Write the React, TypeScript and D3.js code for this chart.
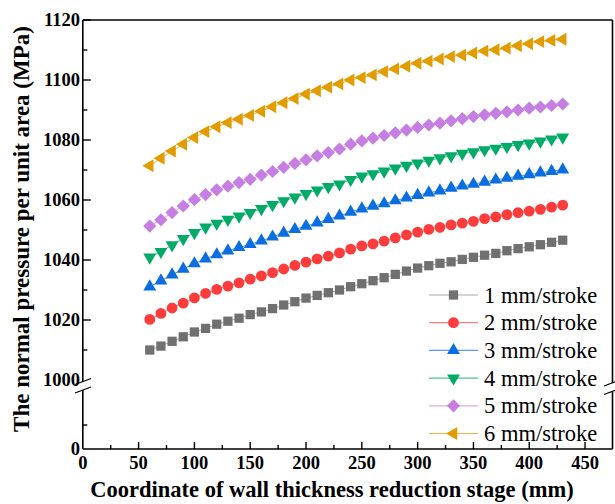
import React from "react";
import * as d3 from "d3";

const xValues = [60, 70, 80, 90, 100, 110, 120, 130, 140, 150, 160, 170, 180, 190, 200, 210, 220, 230, 240, 250, 260, 270, 280, 290, 300, 310, 320, 330, 340, 350, 360, 370, 380, 390, 400, 410, 420, 430];

const s1 = [1010.0, 1011.3, 1012.9, 1014.4, 1016.0, 1017.2, 1018.6, 1019.6, 1020.6, 1021.8, 1022.7, 1023.8, 1025.0, 1026.1, 1027.3, 1028.2, 1029.1, 1030.0, 1031.1, 1032.1, 1033.1, 1034.1, 1035.2, 1036.3, 1037.3, 1038.1, 1038.9, 1039.4, 1040.2, 1040.9, 1041.6, 1042.2, 1043.1, 1043.8, 1044.4, 1045.1, 1045.9, 1046.6];
const s2 = [1020.2, 1022.2, 1024.0, 1025.6, 1027.4, 1028.9, 1030.2, 1031.3, 1032.4, 1033.6, 1034.7, 1035.8, 1037.0, 1038.2, 1039.3, 1040.4, 1041.3, 1042.4, 1043.6, 1044.7, 1045.4, 1046.3, 1047.4, 1048.4, 1049.3, 1050.2, 1050.9, 1051.7, 1052.3, 1052.9, 1053.8, 1054.4, 1055.1, 1055.8, 1056.3, 1056.9, 1057.6, 1058.3];
const s3 = [1031.1, 1033.1, 1035.1, 1037.0, 1038.8, 1040.4, 1041.8, 1043.1, 1044.2, 1045.2, 1046.4, 1047.7, 1049.0, 1050.2, 1051.3, 1052.4, 1053.6, 1054.7, 1056.0, 1057.1, 1058.0, 1058.8, 1059.8, 1060.7, 1061.6, 1062.4, 1063.1, 1064.0, 1064.7, 1065.3, 1066.0, 1066.7, 1067.3, 1068.0, 1068.5, 1069.1, 1069.6, 1070.1];
const s4 = [1040.9, 1042.8, 1045.0, 1047.1, 1049.1, 1050.9, 1052.2, 1053.5, 1054.6, 1055.8, 1057.1, 1058.4, 1059.7, 1060.9, 1062.1, 1063.3, 1064.4, 1065.3, 1066.8, 1067.9, 1068.7, 1069.6, 1070.6, 1071.5, 1072.3, 1073.2, 1074.0, 1074.7, 1075.5, 1076.0, 1076.7, 1077.2, 1077.8, 1078.4, 1078.9, 1079.6, 1080.3, 1080.9];
const s5 = [1051.3, 1053.4, 1055.8, 1058.0, 1060.1, 1061.8, 1063.4, 1064.6, 1065.8, 1066.9, 1068.3, 1069.5, 1070.9, 1072.2, 1073.4, 1074.7, 1075.8, 1077.0, 1078.6, 1079.7, 1080.6, 1081.5, 1082.4, 1083.3, 1084.2, 1085.0, 1085.6, 1086.4, 1087.1, 1087.8, 1088.4, 1088.9, 1089.4, 1090.0, 1090.6, 1091.0, 1091.5, 1092.0];
const s6 = [1071.4, 1073.9, 1076.3, 1078.6, 1080.8, 1082.8, 1084.4, 1085.8, 1086.9, 1088.2, 1089.6, 1091.1, 1092.4, 1093.8, 1095.3, 1096.4, 1097.6, 1098.7, 1100.0, 1100.8, 1101.7, 1102.8, 1103.7, 1104.6, 1105.6, 1106.3, 1107.0, 1107.8, 1108.3, 1109.0, 1109.7, 1110.1, 1110.6, 1111.4, 1112.1, 1112.8, 1113.2, 1113.6];

const seriesNames = ["1 mm/stroke", "2 mm/stroke", "3 mm/stroke", "4 mm/stroke", "5 mm/stroke", "6 mm/stroke"];
const seriesValues = [s1, s2, s3, s4, s5, s6];
const seriesColors = ["#707070", "#ff3c3c", "#0a6de0", "#00ab68", "#c67ee3", "#e39c00"];
const lineColors = ["#a8a8a8", "#ff7b7b", "#5a9ae8", "#4cc08e", "#d9a8ee", "#e9b54a"];
const markerKinds = ["square", "circle", "triUp", "triDown", "diamond", "triLeft"];

const xTickLabels = [0, 50, 100, 150, 200, 250, 300, 350, 400, 450];
const xMinorTicks = [25, 75, 125, 175, 225, 275, 325, 375, 425];
const yUpperLabels = [1000, 1020, 1040, 1060, 1080, 1100, 1120];
const yUpperMinor = [1010, 1030, 1050, 1070, 1090, 1110];
const yLowerLabels = [0];
const yLowerMinor = [10];

const W = 615, H = 504;
const left = 82.8, right = 612.5, top = 20, bottom = 449;
const FONT = "'Liberation Serif', 'Times New Roman', serif";

function markerPath(kind: string): string {
  switch (kind) {
    case "square": return d3.symbol(d3.symbolSquare, 86)()!;
    case "circle": return d3.symbol(d3.symbolCircle, 92)()!;
    case "triUp": return d3.symbol(d3.symbolTriangle, 72)()!;
    case "triDown": return d3.symbol(d3.symbolTriangle, 72)()!;
    case "triLeft": return d3.symbol(d3.symbolTriangle, 72)()!;
    case "diamond": return "M0,-6.6L6.6,0L0,6.6L-6.6,0Z";
  }
  return "";
}
function markerRot(kind: string): number {
  if (kind === "triDown") return 180;
  if (kind === "triLeft") return -90;
  return 0;
}

export default function App() {
  const x = d3.scaleLinear().domain([0, 474.6]).range([left, right]);
  const yU = d3.scaleLinear().domain([1000, 1120]).range([380, top]);
  const yL = d3.scaleLinear().domain([0, 25]).range([bottom, 389]);

  const line = d3.line<[number, number]>().x((d) => x(d[0])).y((d) => yU(d[1]));

  const axisColor = "#000";
  const legendY0 = 295;
  const legendDy = 27.7;

  return (
    <svg width={W} height={H} style={{ position: "absolute", left: 0, top: 0, background: "#fff" }} fontFamily={FONT}>
      <rect x={0} y={0} width={W} height={H} fill="#fff" />
      {seriesValues.map((vals, i) => {
        const pts = xValues.map((xv, j) => [xv, vals[j]] as [number, number]);
        return (
          <g key={i}>
            <path d={line(pts)!} fill="none" stroke={lineColors[i]} strokeWidth={1} />
            {pts.map((p, j) => (
              <path key={j} d={markerPath(markerKinds[i])}
                transform={`translate(${x(p[0])},${yU(p[1])}) rotate(${markerRot(markerKinds[i])})`}
                fill={seriesColors[i]} />
            ))}
          </g>
        );
      })}

      <g stroke={axisColor} strokeWidth={1.6} fill="none">
        <line x1={left} y1={top} x2={right} y2={top} />
        <line x1={left} y1={bottom} x2={right} y2={bottom} />
        <line x1={left} y1={top} x2={left} y2={381.5} />
        <line x1={left} y1={390} x2={left} y2={bottom} />
        <line x1={right} y1={top} x2={right} y2={383} />
        <line x1={right} y1={391.5} x2={right} y2={bottom} />
        <line x1={75} y1={384.5} x2={91} y2={378.5} strokeWidth={1.3} />
        <line x1={75} y1={393} x2={91} y2={387} strokeWidth={1.3} />
        <line x1={604} y1={386} x2={620} y2={380} strokeWidth={1.3} />
        <line x1={604} y1={394.5} x2={620} y2={388.5} strokeWidth={1.3} />
      </g>

      <g stroke={axisColor} strokeWidth={1.4}>
        {yUpperLabels.filter((v) => v !== 1000).map((v) => (
          <line key={"yu" + v} x1={left} x2={left + 8} y1={yU(v)} y2={yU(v)} />
        ))}
        {yUpperMinor.map((v) => (
          <line key={"yum" + v} x1={left} x2={left + 4.5} y1={yU(v)} y2={yU(v)} />
        ))}
        {yLowerMinor.map((v) => (
          <line key={"ylm" + v} x1={left} x2={left + 4.5} y1={yL(v)} y2={yL(v)} />
        ))}
        {xTickLabels.filter((v) => v !== 0).map((v) => (
          <line key={"xt" + v} x1={x(v)} x2={x(v)} y1={bottom} y2={bottom - 7} />
        ))}
        {xMinorTicks.map((v) => (
          <line key={"xm" + v} x1={x(v)} x2={x(v)} y1={bottom} y2={bottom - 4} />
        ))}
      </g>

      <g fontSize={18.5} fontWeight="bold" fill="#000">
        {yUpperLabels.map((v) => (
          <text key={"yl" + v} x={80} y={yU(v) + 6.4} textAnchor="end">{v}</text>
        ))}
        {yLowerLabels.map((v) => (
          <text key={"yll" + v} x={80} y={yL(v) + 6.4} textAnchor="end">{v}</text>
        ))}
        {xTickLabels.map((v) => (
          <text key={"xl" + v} x={x(v)} y={468.5} textAnchor="middle">{v}</text>
        ))}
      </g>

      <text x={332} y={497} textAnchor="middle" fontSize={22.5} fontWeight="bold">
        Coordinate of wall thickness reduction stage (mm)
      </text>
      <text transform={`translate(29,229) rotate(-90)`} textAnchor="middle" fontSize={23} fontWeight="bold">
        The normal pressure per unit area (MPa)
      </text>

      {seriesNames.map((name, i) => {
        const ly = legendY0 + i * legendDy;
        return (
          <g key={"lg" + i}>
            <line x1={429} x2={478} y1={ly} y2={ly} stroke={lineColors[i]} strokeWidth={1.2} />
            <path d={markerPath(markerKinds[i])} transform={`translate(453.5,${ly}) rotate(${markerRot(markerKinds[i])})`} fill={seriesColors[i]} />
            <text x={484} y={ly + 7.5} fontSize={22.5} fill="#000">{name}</text>
          </g>
        );
      })}
    </svg>
  );
}
